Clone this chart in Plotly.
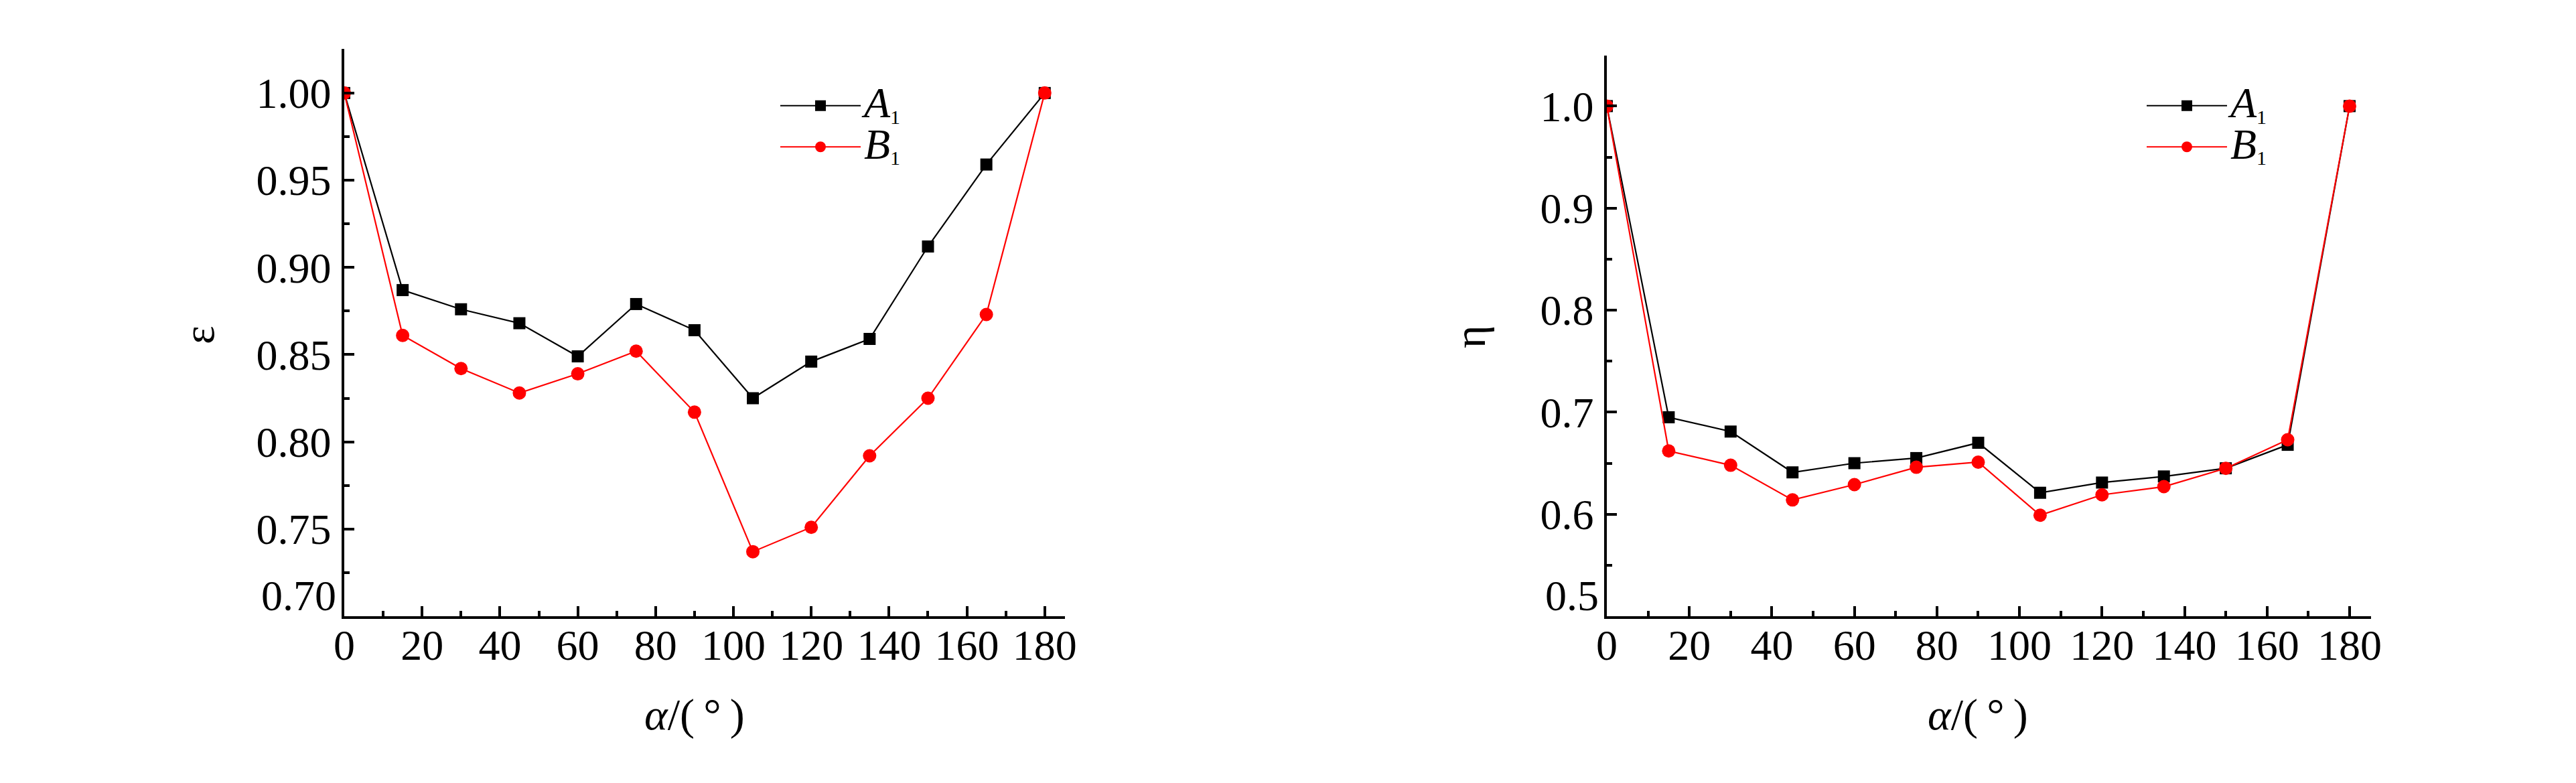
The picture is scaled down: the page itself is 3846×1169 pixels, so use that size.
import plotly.graph_objects as go

# page body has an 8px margin, so the figure is sized to fit inside it
OFF = 8
W, H = 3846 - 2 * OFF, 1169 - 2 * OFF

# ---------------- data ----------------
alpha = [0, 15, 30, 45, 60, 75, 90, 105, 120, 135, 150, 165, 180]
eps_A1 = [1.000, 0.887, 0.876, 0.868, 0.849, 0.879, 0.864, 0.825, 0.846, 0.859, 0.912, 0.959, 1.000]
eps_B1 = [1.000, 0.861, 0.842, 0.828, 0.839, 0.852, 0.817, 0.737, 0.751, 0.792, 0.825, 0.873, 1.000]
eta_A1 = [1.000, 0.695, 0.681, 0.641, 0.650, 0.655, 0.670, 0.621, 0.631, 0.637, 0.645, 0.668, 1.000]
eta_B1 = [1.000, 0.662, 0.648, 0.614, 0.629, 0.646, 0.651, 0.599, 0.619, 0.627, 0.645, 0.673, 1.000]
series_names = ["A", "B"]
x_ticks = [0, 20, 40, 60, 80, 100, 120, 140, 160, 180]
eps_ticks = [0.70, 0.75, 0.80, 0.85, 0.90, 0.95, 1.00]
eta_ticks = [0.5, 0.6, 0.7, 0.8, 0.9, 1.0]
x_title = "<i>α</i>/(\u2009°\u2009)"
y_titles = ["ε", "η"]

FONT = "Liberation Serif, Times New Roman, serif"
TICKFONT = dict(family=FONT, size=64, color="black")


def legend_label(letter):
    return (f"<span style='font-size:64px'><i>{letter}</i></span>"
            f"<sub><span style='font-size:30px'>1</span></sub>")


def px_x(p):
    return (p - OFF) / W


def px_y(p):
    return 1 - (p - OFF) / H


fig = go.Figure()

styles = [
    dict(color="black", symbol="square", size=18),
    dict(color="red", symbol="circle", size=20),
]

for (ya, yb), xa, ya_name, leg in [((eps_A1, eps_B1), "x", "y", "legend"),
                                   ((eta_A1, eta_B1), "x2", "y2", "legend2")]:
    for vals, st, nm in zip((ya, yb), styles, series_names):
        fig.add_trace(go.Scatter(
            x=alpha, y=vals, mode="lines+markers",
            name=legend_label(nm),
            line=dict(color=st["color"], width=2.2),
            marker=dict(color=st["color"], symbol=st["symbol"], size=st["size"],
                        line=dict(width=0)),
            xaxis=xa, yaxis=ya_name, legend=leg,
        ))

axis_common = dict(
    showline=True, linecolor="black", linewidth=3.5,
    ticks="inside", tickcolor="black", tickwidth=3.5, ticklen=15,
    showgrid=False, zeroline=False, mirror=False, automargin=False,
    tickfont=TICKFONT,
)
x_common = dict(ticklabelstandoff=-16, **axis_common)
y_common = dict(ticklabelstandoff=3, **axis_common)
minor_common = dict(ticks="inside", ticklen=8, tickwidth=3.5, tickcolor="black", showgrid=False)

# bottom y tick label is drawn separately (raised so it sits on the axis line)
eps_text = [""] + [f"{v:.2f}" for v in eps_ticks[1:]]
eta_text = [""] + [f"{v:.1f}" for v in eta_ticks[1:]]

fig.update_layout(
    width=W, height=H,
    margin=dict(l=0, r=0, t=0, b=0, pad=0, autoexpand=False),
    paper_bgcolor="white", plot_bgcolor="white",
    font=dict(family=FONT, color="black"),
    xaxis=dict(domain=[px_x(514), px_x(1590)], range=[0, 185.2], anchor="y",
               tickvals=x_ticks, ticktext=[str(v) for v in x_ticks],
               minor=dict(dtick=10, tick0=0, **minor_common),
               **x_common),
    yaxis=dict(domain=[px_y(920), px_y(73)], range=[0.70, 1.0253], anchor="x",
               tickvals=eps_ticks, ticktext=eps_text,
               minor=dict(dtick=0.025, tick0=0.70, **minor_common),
               **y_common),
    xaxis2=dict(domain=[px_x(2399), px_x(3540)], range=[0, 185.2], anchor="y2",
                tickvals=x_ticks, ticktext=[str(v) for v in x_ticks],
                minor=dict(dtick=10, tick0=0, **minor_common),
                **x_common),
    yaxis2=dict(domain=[px_y(920), px_y(83)], range=[0.5, 1.0495], anchor="x2",
                tickvals=eta_ticks, ticktext=eta_text,
                minor=dict(dtick=0.05, tick0=0.5, **minor_common),
                **y_common),
    legend=dict(x=px_x(1160), y=px_y(122), xanchor="left", yanchor="top",
                font=dict(family=FONT, size=45, color="black"),
                bgcolor="rgba(0,0,0,0)", itemwidth=120, tracegroupgap=0),
    legend2=dict(x=px_x(3200), y=px_y(122), xanchor="left", yanchor="top",
                 font=dict(family=FONT, size=45, color="black"),
                 bgcolor="rgba(0,0,0,0)", itemwidth=120, tracegroupgap=0),
    showlegend=True,
)

annotations = [
    dict(text=y_titles[0], x=px_x(296), y=px_y(500), textangle=-90),
    dict(text=y_titles[1], x=px_x(2194), y=px_y(503), textangle=-90),
    dict(text=x_title, x=px_x(1037), y=px_y(1067)),
    dict(text=x_title, x=px_x(2953), y=px_y(1067)),
]
for a in annotations:
    fig.add_annotation(xref="paper", yref="paper", showarrow=False,
                       xanchor="center", yanchor="middle",
                       font=dict(family=FONT, size=66, color="black"), **a)

# raised bottom tick labels, positioned on the axis scale
fig.add_annotation(text=f"{eps_ticks[0]:.2f}", xref="paper", x=px_x(503), yref="y", y=eps_ticks[0],
                   xanchor="right", yanchor="bottom", showarrow=False, borderpad=0, yshift=-6,
                   font=TICKFONT)
fig.add_annotation(text=f"{eta_ticks[0]:.1f}", xref="paper", x=px_x(2388), yref="y2", y=eta_ticks[0],
                   xanchor="right", yanchor="bottom", showarrow=False, borderpad=0, yshift=-6,
                   font=TICKFONT)

fig.write_html("out.html")
